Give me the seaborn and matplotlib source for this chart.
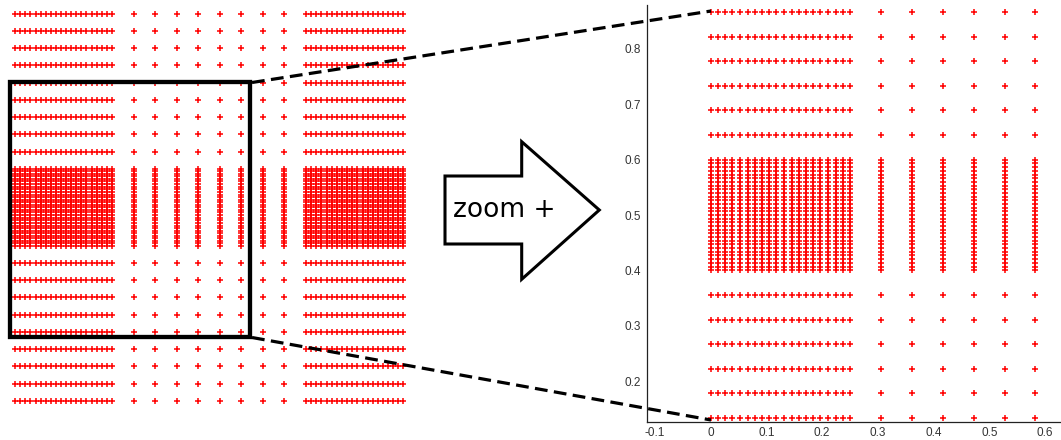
import numpy as np
import pandas as pd
import seaborn as sns
import matplotlib
matplotlib.use('Agg')
import matplotlib.pyplot as plt
from matplotlib.lines import Line2D
from matplotlib.patches import Polygon, Rectangle

# grid coordinates
x_dense_left = [0.0, 0.013, 0.026, 0.039, 0.053, 0.066, 0.079, 0.092, 0.105, 0.118,
                0.132, 0.145, 0.158, 0.171, 0.184, 0.197, 0.211, 0.224, 0.237, 0.25]
x_coarse = [0.306, 0.361, 0.417, 0.472, 0.528, 0.583, 0.639, 0.694]
x_dense_right = [0.75, 0.763, 0.776, 0.789, 0.803, 0.816, 0.829, 0.842, 0.855, 0.868,
                 0.882, 0.895, 0.908, 0.921, 0.934, 0.947, 0.961, 0.974, 0.987, 1.0]

y_coarse_low = [0.0, 0.044, 0.089, 0.133, 0.178, 0.222, 0.267, 0.311, 0.356]
y_dense = [0.4, 0.407, 0.413, 0.42, 0.427, 0.433, 0.44, 0.447, 0.453, 0.46,
           0.467, 0.473, 0.48, 0.487, 0.493, 0.5, 0.507, 0.513, 0.52, 0.527,
           0.533, 0.54, 0.547, 0.553, 0.56, 0.567, 0.573, 0.58, 0.587, 0.593, 0.6]
y_coarse_high = [0.644, 0.689, 0.733, 0.778, 0.822, 0.867, 0.911, 0.956, 1.0]

x_ticks = [-0.1, 0.0, 0.1, 0.2, 0.3, 0.4, 0.5, 0.6]
x_tick_labels = ["-0.1", "0", "0.1", "0.2", "0.3", "0.4", "0.5", "0.6"]
y_ticks = [0.2, 0.3, 0.4, 0.5, 0.6, 0.7, 0.8]
y_tick_labels = ["0.2", "0.3", "0.4", "0.5", "0.6", "0.7", "0.8"]

xs = x_dense_left + x_coarse + x_dense_right
ys = y_coarse_low + y_dense + y_coarse_high
gx, gy = np.meshgrid(xs, ys)
grid = pd.DataFrame({"x": gx.ravel(), "y": gy.ravel()})

sns.set_style("white")
plt.rcParams['font.family'] = ['DejaVu Sans']

W, H = 1061, 440
fig = plt.figure(figsize=(W / 100, H / 100), dpi=100)


def fx(px):
    return px / W


def fy(py):
    return 1 - py / H


# left panel: whole grid, no axes
ax1 = fig.add_axes([fx(5), fy(410), 408 / W, 406 / H])
sns.scatterplot(data=grid, x="x", y="y", ax=ax1, marker="+", color="#ff0000",
                s=13, linewidth=1.1)
ax1.set_xlim(-0.0258, 1.025)
ax1.set_ylim(-0.024, 1.0259)
ax1.axis("off")

# right panel: zoomed view
ax2 = fig.add_axes([fx(646.7), fy(421.7), (1060 - 646.7) / W, (421.7 - 5) / H])
sns.scatterplot(data=grid, x="x", y="y", ax=ax2, marker="+", color="#ff0000",
                s=13, linewidth=1.1)
ax2.set_xlim(-0.115, 0.627)
ax2.set_ylim(0.127, 0.879)
ax2.set_xticks(x_ticks)
ax2.set_xticklabels(x_tick_labels, family="Liberation Sans")
ax2.set_yticks(y_ticks)
ax2.set_yticklabels(y_tick_labels, family="Liberation Sans")
ax2.set_xlabel("")
ax2.set_ylabel("")
ax2.tick_params(direction="in", length=3, width=0.8, labelsize=8.5,
                colors="#333333", pad=4)
sns.despine(ax=ax2)
for s in ["left", "bottom"]:
    ax2.spines[s].set_color("#222222")
    ax2.spines[s].set_linewidth(0.9)

# selection box
box = Rectangle((fx(9.5), fy(337)), fx(250) - fx(9.5), fy(82.5) - fy(337),
                transform=fig.transFigure, fill=False, edgecolor="black",
                linewidth=3.1, zorder=5)
fig.add_artist(box)

# dashed connector lines
for (x0, y0, x1, y1) in [(252, 82.5, 711, 11), (252, 337.5, 711, 420)]:
    fig.add_artist(Line2D([fx(x0), fx(x1)], [fy(y0), fy(y1)], transform=fig.transFigure,
                          color="black", linewidth=2.3, linestyle=(0, (4, 2)), zorder=6))

# arrow
arrow_pts = [(445, 176), (521.7, 176), (521.7, 141.7), (599.3, 210),
             (521.7, 279.3), (521.7, 244), (445, 244)]
arrow = Polygon([(fx(a), fy(b)) for a, b in arrow_pts], closed=True,
                transform=fig.transFigure, facecolor="white", edgecolor="black",
                linewidth=2.2, zorder=5)
fig.add_artist(arrow)
fig.text(fx(453), fy(210), "zoom +", fontsize=19, ha="left", va="center",
         color="black", zorder=7)

fig.savefig("out.png", dpi=100)
